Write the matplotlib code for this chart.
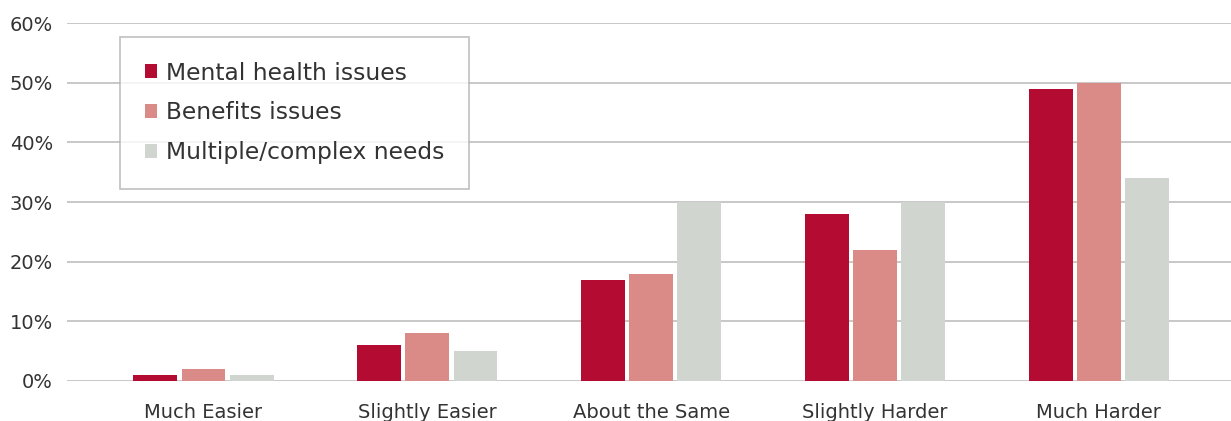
import matplotlib
matplotlib.use("Agg")
import matplotlib.pyplot as plt
import numpy as np

categories = ["Much Easier", "Slightly Easier", "About the Same", "Slightly Harder", "Much Harder"]
series_names = ["Mental health issues", "Benefits issues", "Multiple/complex needs"]
mental_health = [1, 6, 17, 28, 49]
benefits = [2, 8, 18, 22, 50]
multiple_complex = [1, 5, 30, 30, 34]
y_ticks = [0, 10, 20, 30, 40, 50, 60]

colors = ["#B30B32", "#DB8B87", "#D0D5CF"]

plt.rcParams['font.family'] = ['DejaVu Sans']

fig = plt.figure(figsize=(12.31, 4.21), dpi=100)
ax = fig.add_axes([67/1231, 1-381/421, 1-67/1231, (381-23)/421])

x = np.arange(len(categories))
w = 0.196
step = 0.215
for i, (vals, name) in enumerate(zip([mental_health, benefits, multiple_complex], series_names)):
    ax.bar(x + (i-1)*step, vals, width=w, color=colors[i], label=name, zorder=3)

ax.set_xlim(-0.61, 4.59)
ax.set_ylim(0, 60)
ax.set_yticks(y_ticks)
ax.set_yticklabels([f"{t}%" for t in y_ticks])
ax.set_xticks(x)
ax.set_xticklabels(categories)
ax.grid(axis='y', color='#c4c4c4', linewidth=1.3, zorder=0)
for s in ax.spines.values():
    s.set_visible(False)
ax.tick_params(axis='both', length=0, labelsize=14, colors='#333333')
ax.tick_params(axis='x', pad=16)
ax.tick_params(axis='y', pad=10)

leg = ax.legend(loc='upper left', bbox_to_anchor=((120-67)/1164, 1-(37-23)/358),
                fontsize=16.8, frameon=True, fancybox=False, handlelength=0.55, handleheight=0.55,
                handletextpad=0.38, borderpad=1.05, labelspacing=0.72, borderaxespad=0)
leg.get_frame().set_edgecolor('#b0b0b0')
leg.get_frame().set_linewidth(1.2)
for t in leg.get_texts():
    t.set_color('#333333')

fig.savefig("out.png", dpi=100)
